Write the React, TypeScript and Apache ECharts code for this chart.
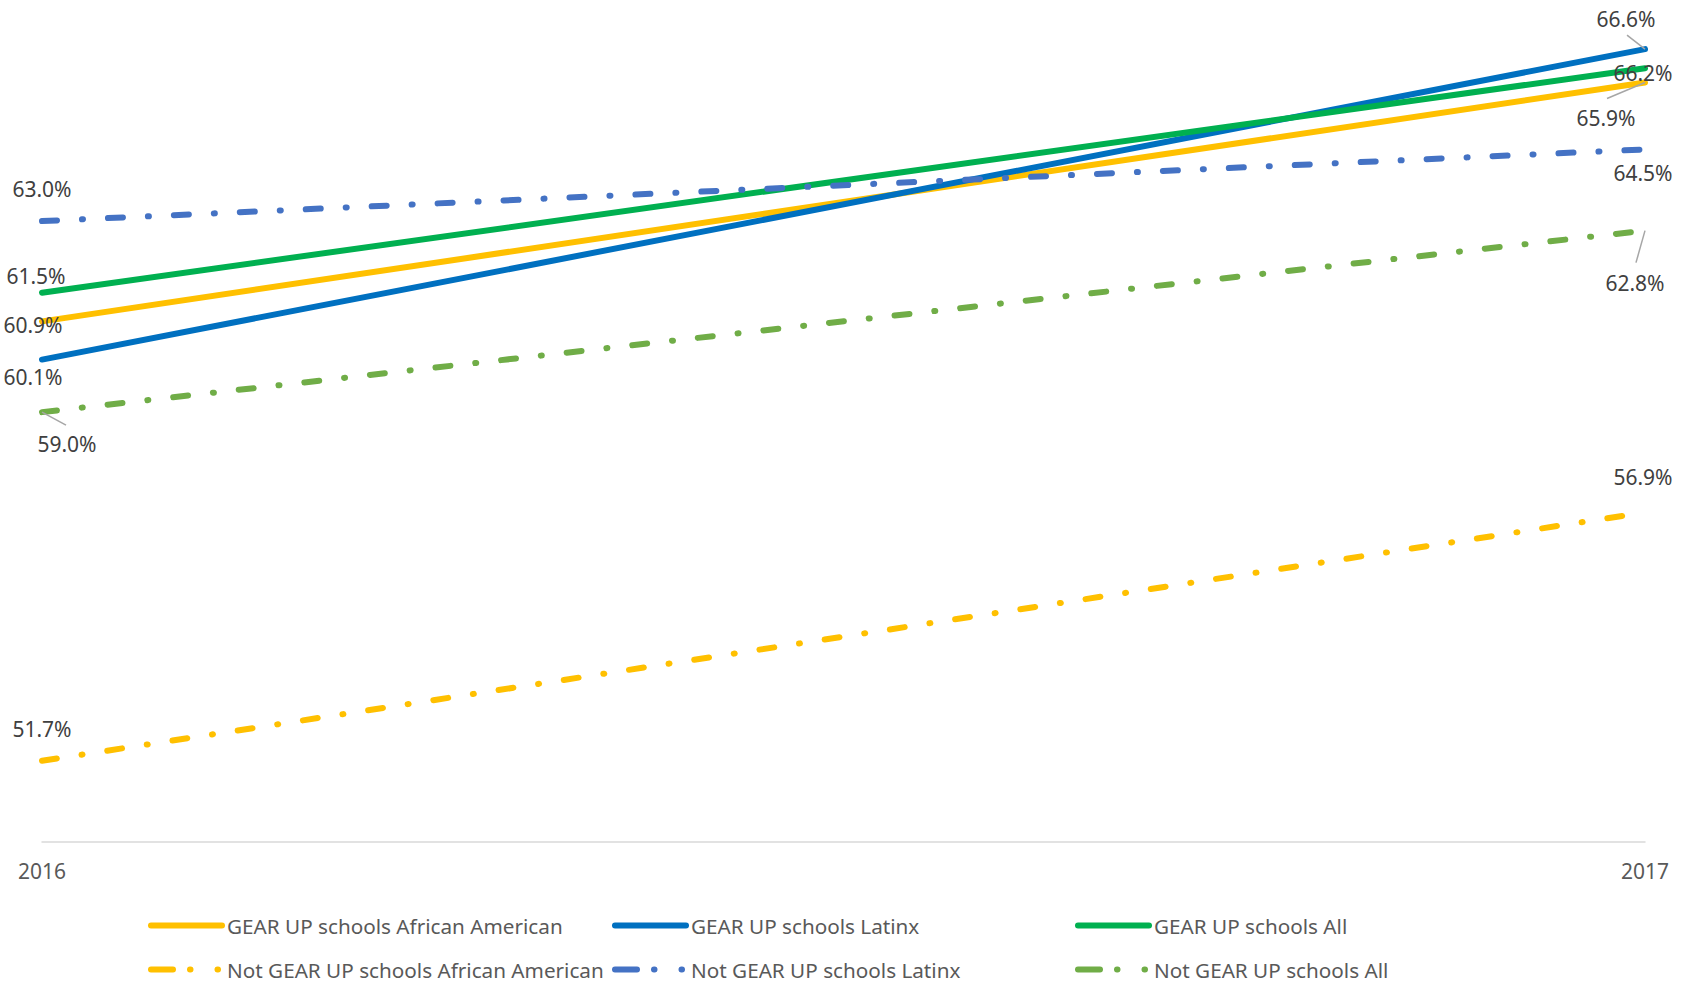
import React, { useEffect, useRef } from "react";
import * as echarts from "echarts";

const years = ["2016", "2017"];
const gearAfricanAmerican = [60.9, 65.9];
const gearLatinx = [60.1, 66.6];
const gearAll = [61.5, 66.2];
const notGearAfricanAmerican = [51.7, 56.9];
const notGearLatinx = [63.0, 64.5];
const notGearAll = [59.0, 62.8];

const seriesNames = [
  "GEAR UP schools African American",
  "GEAR UP schools Latinx",
  "GEAR UP schools All",
  "Not GEAR UP schools African American",
  "Not GEAR UP schools Latinx",
  "Not GEAR UP schools All",
];

const FONT = "'Noto Sans', sans-serif";
const DASH = [15, 25, 1, 25];
const LEGEND_DASH = [22, 17, 0.5, 27, 0.5, 30];

// label offsets [dx, dy] per series per point (from the data point)
const labelOffsets: number[][][] = [
  [[-9, 4], [-39, 35]],
  [[-9, 17], [-19, -30]],
  [[-6, -17], [-2, 5]],
  [[0, -32], [-2, -35]],
  [[0, -32], [-2, 24]],
  [[25, 32], [-10, 52]],
];

// leader lines: [seriesIndex, dataIndex, dx, dy]
const leaders: number[][] = [
  [5, 0, 24, 13],
  [1, 1, -18, -14],
  [0, 1, -38, 16],
  [5, 1, -9, 32],
];

export default function App() {
  const ref = useRef<HTMLDivElement>(null);
  useEffect(() => {
    const chart = echarts.init(ref.current!, null, { renderer: "svg" });
    const datasets = [
      gearAfricanAmerican,
      gearLatinx,
      gearAll,
      notGearAfricanAmerican,
      notGearLatinx,
      notGearAll,
    ];
    const colors = ["#FFC000", "#0070C0", "#00B050", "#FFC000", "#4472C4", "#70AD47"];
    const series = datasets.map((d, si) => ({
      name: seriesNames[si],
      type: "line",
      data: d.map((v, i) => ({
        value: v,
        label: { offset: labelOffsets[si][i] },
      })),
      symbol: "circle",
      symbolSize: 0,
      itemStyle: { color: colors[si] },
      lineStyle: {
        color: colors[si],
        width: 6,
        type: si >= 3 ? DASH : "solid",
        cap: "round",
      },
      label: {
        show: true,
        position: "inside",
        formatter: (p: any) => p.value.toFixed(1) + "%",
        color: "#404040",
        fontSize: 21,
        fontFamily: FONT,
      },
      emphasis: { disabled: true },
      z: si,
    }));
    const legendPos = [
      [148, 915],
      [612, 915],
      [1075, 915],
      [148, 959],
      [612, 959],
      [1075, 959],
    ];
    const legends = seriesNames.map((n, i) => ({
      data: [n],
      left: legendPos[i][0],
      top: legendPos[i][1],
      padding: 0,
      itemWidth: 71,
      itemHeight: 20,
      itemStyle: { color: "transparent", borderWidth: 0, opacity: 0 },
      lineStyle: {
        width: 6,
        cap: "round",
        type: i >= 3 ? LEGEND_DASH : "solid",
      },
      textStyle: { color: "#595959", fontSize: 20.7, fontFamily: FONT },
      selectedMode: false,
    }));
    chart.setOption({
      animation: false,
      grid: { left: 42, right: 43, top: 30, bottom: 143 },
      xAxis: {
        type: "category",
        data: years,
        boundaryGap: false,
        axisLine: { lineStyle: { color: "#d9d9d9", width: 1.5 } },
        axisTick: { show: false },
        axisLabel: { color: "#595959", fontSize: 21, fontFamily: FONT, margin: 18 },
      },
      yAxis: { type: "value", min: 50, max: 67, show: false },
      legend: legends,
      series,
    });
    const lines = leaders.map(([si, di, dx, dy]) => {
      const p = chart.convertToPixel({ gridIndex: 0 }, [di, datasets[si][di]]) as number[];
      return {
        type: "line",
        shape: { x1: p[0], y1: p[1], x2: p[0] + dx, y2: p[1] + dy },
        style: { stroke: "#a6a6a6", lineWidth: 1.5 },
        z: 10,
      };
    });
    chart.setOption({ graphic: lines });
    return () => chart.dispose();
  }, []);
  return (
    <div
      ref={ref}
      style={{ position: "fixed", left: 0, top: 0, width: 1688, height: 985, background: "#fff" }}
    />
  );
}
